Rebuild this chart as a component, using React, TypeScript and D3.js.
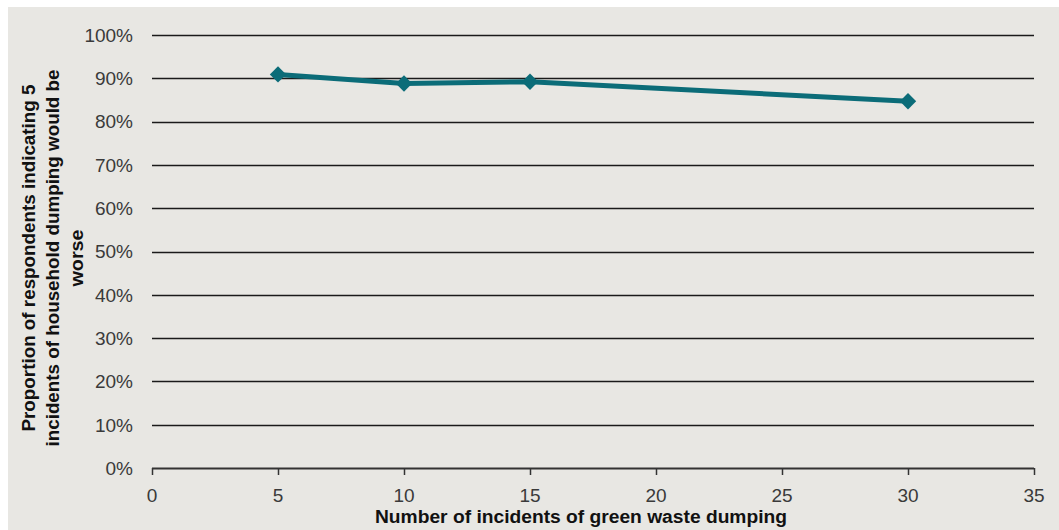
import React from "react";
import * as d3 from "d3";

const xValues = [5, 10, 15, 30];
const yValues = [0.909, 0.888, 0.892, 0.847];
const xTicks = [0, 5, 10, 15, 20, 25, 30, 35];
const yTicks = [0, 0.1, 0.2, 0.3, 0.4, 0.5, 0.6, 0.7, 0.8, 0.9, 1.0];
const xTitle = "Number of incidents of green waste dumping";
const yTitleLines = ["Proportion of respondents indicating 5", "incidents of household dumping  would be", "worse"];
const yTitleLengths = [347, 377, 57];

export default function App() {
  const W = 1059, H = 530;
  const left = 152, right = 1034, top = 35, bottom = 468;
  const x = d3.scaleLinear().domain([0, 35]).range([left, right]);
  const y = d3.scaleLinear().domain([0, 1]).range([bottom, top]);
  const line = d3.line<number>().x((_, i) => x(xValues[i])).y((d) => y(d));
  const font = "'Liberation Sans', Arial, sans-serif";
  const diamond = d3.symbol().type(d3.symbolDiamond2).size(170)();
  const color = "#0b6c78";
  return (
    <svg width={W} height={H} style={{ position: "absolute", left: 0, top: 0, display: "block" }}>
      <rect x={0} y={0} width={W} height={H} fill="#ffffff" />
      <rect x={8} y={7} width={W - 8} height={H - 7} fill="#e8e7e3" />
      {yTicks.slice(1).map((t) => (
        <line key={t} x1={left} x2={right} y1={Math.round(y(t)) + 0.5} y2={Math.round(y(t)) + 0.5} stroke="#1a1a1a" strokeWidth={1.6} />
      ))}
      <line x1={left} x2={right} y1={bottom + 0.5} y2={bottom + 0.5} stroke="#333" strokeWidth={1.8} />
      {xTicks.map((t) => (
        <line key={t} x1={Math.round(x(t)) + 0.5} x2={Math.round(x(t)) + 0.5} y1={bottom} y2={bottom + 7} stroke="#333" strokeWidth={1.5} />
      ))}
      {yTicks.map((t) => (
        <text key={t} x={133} y={y(t)} dy="0.36em" textAnchor="end" fontFamily={font} fontSize={19} fill="#3a3a3a">
          {`${Math.round(t * 100)}%`}
        </text>
      ))}
      {xTicks.map((t) => (
        <text key={t} x={x(t)} y={502} textAnchor="middle" fontFamily={font} fontSize={19} fill="#3a3a3a">
          {t}
        </text>
      ))}
      <text x={581} y={523} textAnchor="middle" fontFamily={font} fontSize={18} fontWeight="bold" fill="#111" textLength={412} lengthAdjust="spacingAndGlyphs">
        {xTitle}
      </text>
      {yTitleLines.map((l, i) => (
        <text key={i} transform={`translate(${35 + i * 24},${258}) rotate(-90)`} textAnchor="middle" fontFamily={font} fontSize={19} fontWeight="bold" fill="#111" textLength={yTitleLengths[i]} lengthAdjust="spacingAndGlyphs">
          {l}
        </text>
      ))}
      <path d={line(yValues) || ""} fill="none" stroke={color} strokeWidth={5} strokeLinejoin="round" />
      {yValues.map((v, i) => (
        <path key={i} d={diamond || ""} transform={`translate(${x(xValues[i])},${y(v)})`} fill={color} />
      ))}
    </svg>
  );
}
